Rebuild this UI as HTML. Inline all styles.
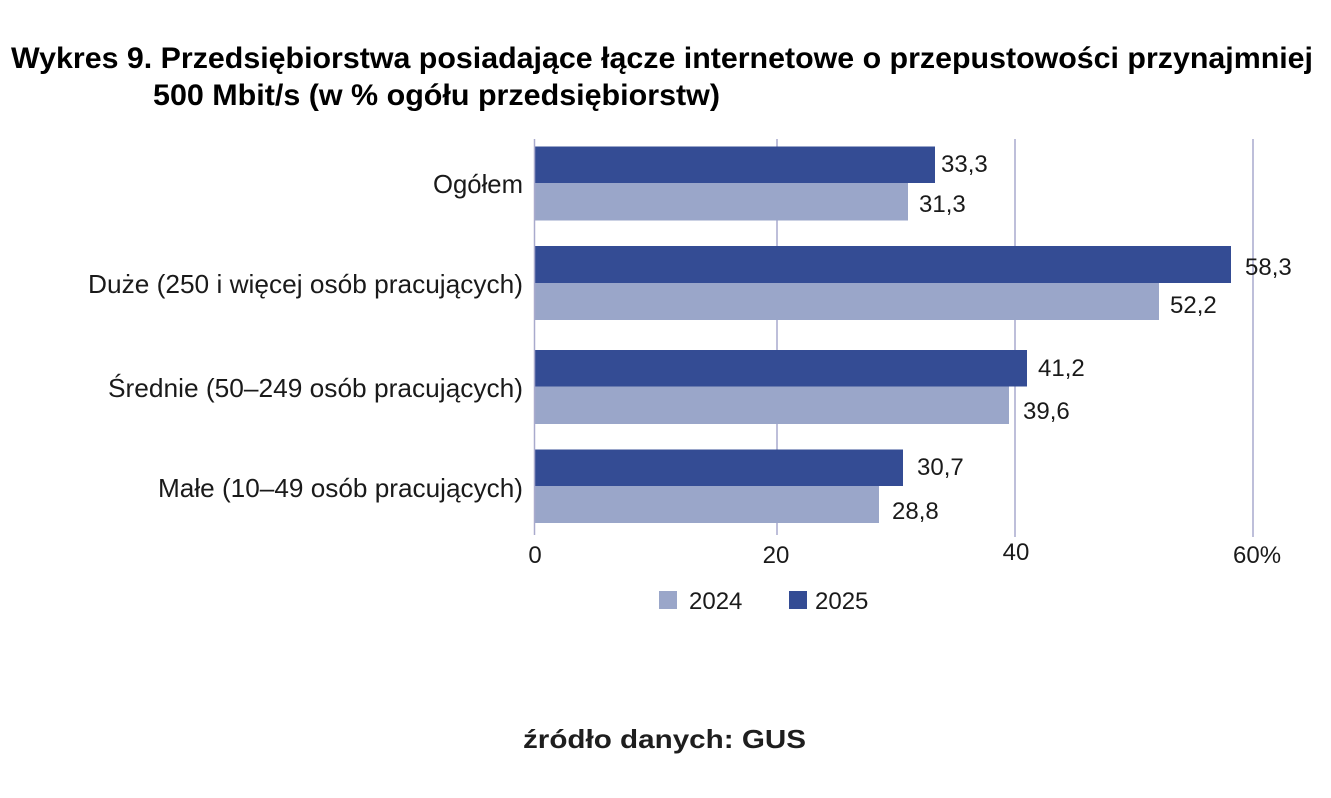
<!DOCTYPE html>
<html>
<head>
<meta charset="utf-8">
<style>
  html, body { margin:0; padding:0; background:#ffffff; }
  svg { display:block; }
  text { font-family: "Liberation Sans", "DejaVu Sans", sans-serif; fill:#1a1a1a; }
  .t { font-weight:bold; font-size:30px; fill:#000; }
  .cat { font-size:26px; }
  .val { font-size:24px; }
  .tick { font-size:24px; }
  .src { font-weight:bold; font-size:26px; fill:#1e1e1e; }
</style>
</head>
<body>
<svg width="1331" height="798" viewBox="0 0 1331 798" xmlns="http://www.w3.org/2000/svg">
  <rect x="0" y="0" width="1331" height="798" fill="#ffffff"/>

  <!-- Title -->
  <text class="t" x="11" y="68" textLength="1302" lengthAdjust="spacingAndGlyphs">Wykres 9. Przedsiębiorstwa posiadające łącze internetowe o przepustowości przynajmniej</text>
  <text class="t" x="153" y="105" textLength="567" lengthAdjust="spacingAndGlyphs">500 Mbit/s (w % ogółu przedsiębiorstw)</text>

  <!-- Gridlines -->
  <g stroke="#a9aacd" stroke-width="1.5">
    <line x1="777" y1="139" x2="777" y2="535"/>
    <line x1="1015" y1="139" x2="1015" y2="537"/>
    <line x1="1253" y1="139" x2="1253" y2="537"/>
  </g>

  <!-- Bars -->
  <g>
    <rect x="534.5" y="146.5" width="400.5" height="36.5" fill="#344c94"/>
    <rect x="534.5" y="183" width="373.5" height="37.5" fill="#9aa6c9"/>

    <rect x="534.5" y="246" width="696.5" height="37" fill="#344c94"/>
    <rect x="534.5" y="283" width="624.5" height="37" fill="#9aa6c9"/>

    <rect x="534.5" y="350" width="492.5" height="36.5" fill="#344c94"/>
    <rect x="534.5" y="386.5" width="474.5" height="37.5" fill="#9aa6c9"/>

    <rect x="534.5" y="449.5" width="368.5" height="36.5" fill="#344c94"/>
    <rect x="534.5" y="486" width="344.5" height="37" fill="#9aa6c9"/>
  </g>

  <!-- Axis -->
  <line x1="534.5" y1="139" x2="534.5" y2="535" stroke="#a9aacd" stroke-width="1.5"/>

  <!-- Category labels -->
  <text class="cat" x="433" y="193" textLength="90" lengthAdjust="spacingAndGlyphs">Ogółem</text>
  <text class="cat" x="88" y="293" textLength="435" lengthAdjust="spacingAndGlyphs">Duże (250 i więcej osób pracujących)</text>
  <text class="cat" x="108" y="397" textLength="415" lengthAdjust="spacingAndGlyphs">Średnie (50–249 osób pracujących)</text>
  <text class="cat" x="158" y="497" textLength="365" lengthAdjust="spacingAndGlyphs">Małe (10–49 osób pracujących)</text>

  <!-- Value labels -->
  <text class="val" x="941" y="172">33,3</text>
  <text class="val" x="919" y="212">31,3</text>
  <text class="val" x="1245" y="275">58,3</text>
  <text class="val" x="1170" y="313">52,2</text>
  <text class="val" x="1038" y="376">41,2</text>
  <text class="val" x="1023" y="419">39,6</text>
  <text class="val" x="917" y="475">30,7</text>
  <text class="val" x="892" y="519">28,8</text>

  <!-- Tick labels -->
  <text class="tick" x="535" y="563" text-anchor="middle">0</text>
  <text class="tick" x="776" y="563" text-anchor="middle">20</text>
  <text class="tick" x="1016" y="560" text-anchor="middle">40</text>
  <text class="tick" x="1233" y="563">60%</text>

  <!-- Legend -->
  <rect x="659" y="591" width="18" height="18" fill="#9aa6c9"/>
  <text class="tick" x="689" y="609">2024</text>
  <rect x="789" y="591" width="18" height="18" fill="#344c94"/>
  <text class="tick" x="815" y="609">2025</text>

  <!-- Source -->
  <text class="src" x="523" y="748" textLength="283" lengthAdjust="spacingAndGlyphs">źródło danych: GUS</text>
</svg>
</body>
</html>
